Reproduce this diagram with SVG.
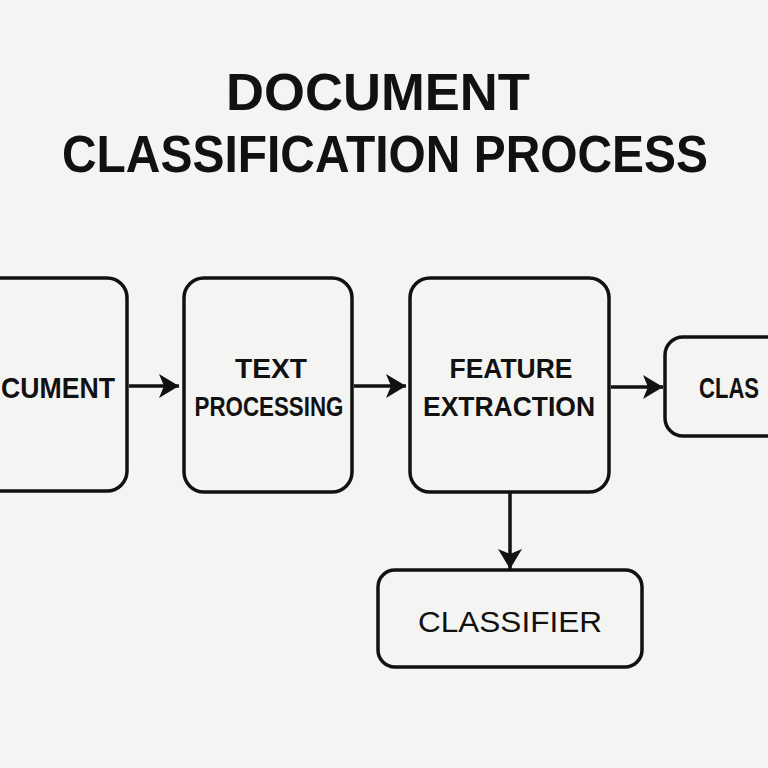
<svg xmlns="http://www.w3.org/2000/svg" width="768" height="768" viewBox="0 0 768 768">
<style>
.box{fill:none;stroke:#111;stroke-width:3.5}
.t{font-family:"Liberation Sans",Arial,sans-serif;fill:#111;text-anchor:middle}
.s{text-anchor:start}
.b{font-weight:bold}
.conn{stroke:#111;stroke-width:3.5;fill:none}
</style>
<defs>
<marker id="arr" markerUnits="userSpaceOnUse" markerWidth="24" markerHeight="28" refX="20" refY="12" orient="auto">
<path d="M0,0 L20,12 L0,24 L5,12 Z" fill="#111"/>
</marker>
</defs>
<rect width="768" height="768" fill="#f4f4f2"/>
<g id="title">
<text class="t b" x="378" y="110" font-size="51" textLength="304" lengthAdjust="spacingAndGlyphs">DOCUMENT</text>
<text class="t b" x="385" y="172" font-size="51" textLength="646" lengthAdjust="spacingAndGlyphs">CLASSIFICATION PROCESS</text>
</g>
<g id="node-document">
<rect class="box" x="-60" y="278" width="187" height="213" rx="20"/>
<text class="t b s" x="1" y="398" font-size="30" textLength="114" lengthAdjust="spacingAndGlyphs">CUMENT</text>
</g>
<g id="node-text-processing">
<rect class="box" x="184" y="278" width="168" height="214" rx="20"/>
<text class="t b" x="271" y="378" font-size="27" textLength="72" lengthAdjust="spacingAndGlyphs">TEXT</text>
<text class="t b" x="269" y="416" font-size="27" textLength="149" lengthAdjust="spacingAndGlyphs">PROCESSING</text>
</g>
<g id="node-feature-extraction">
<rect class="box" x="410" y="278" width="199" height="214" rx="20"/>
<text class="t b" x="511" y="378" font-size="27" textLength="123" lengthAdjust="spacingAndGlyphs">FEATURE</text>
<text class="t b" x="509" y="416" font-size="27" textLength="172" lengthAdjust="spacingAndGlyphs">EXTRACTION</text>
</g>
<g id="node-class">
<rect class="box" x="665" y="337" width="160" height="99" rx="18"/>
<text class="t b s" x="699" y="398" font-size="30" textLength="60" lengthAdjust="spacingAndGlyphs">CLAS</text>
</g>
<g id="node-classifier">
<rect class="box" x="378" y="570" width="264" height="97" rx="17"/>
<text class="t" x="510" y="632" font-size="30" textLength="184" lengthAdjust="spacingAndGlyphs">CLASSIFIER</text>
</g>
<g id="connectors">
<line class="conn" x1="129" y1="386" x2="179" y2="386" marker-end="url(#arr)"/>
<line class="conn" x1="354" y1="386" x2="406" y2="386" marker-end="url(#arr)"/>
<line class="conn" x1="611" y1="387" x2="663" y2="387" marker-end="url(#arr)"/>
<line class="conn" x1="510" y1="493" x2="510" y2="569" marker-end="url(#arr)"/>
</g>
</svg>
